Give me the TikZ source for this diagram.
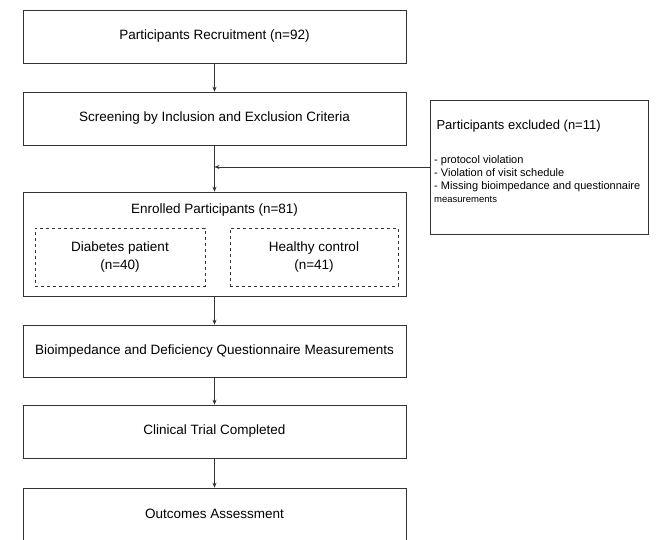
\documentclass[tikz,border=0pt]{standalone}
\usepackage{fontspec}
\setmainfont{Liberation Sans}
\usetikzlibrary{arrows.meta}
\begin{document}
\begin{tikzpicture}[x=1pt, y=-1pt,
    caja/.style={draw=black!80, line width=0.6pt, minimum width=383pt, minimum height=53pt, inner sep=0pt, font=\fontsize{13.5}{16}\selectfont},
    subcaja/.style={draw=black!80, dashed, line width=0.5pt, minimum height=58pt, inner sep=0pt, align=center, font=\fontsize{13.5}{18}\selectfont},
    flecha/.style={-{Stealth[length=5pt, width=4pt]}, line width=0.5pt, black!80}]
  \useasboundingbox (0,0) rectangle (656,540);

  % cajas principales
  \node[caja] (recruit) at (214.5,36.5) {Participants Recruitment (n=92)};
  \node[caja] (screen) at (214.5,118.5) {Screening by Inclusion and Exclusion Criteria};
  \node[caja, minimum height=104pt] (enrolled) at (214.5,244) {};
  \node[caja, minimum height=52pt] (bio) at (214.5,351) {Bioimpedance and Deficiency Questionnaire Measurements};
  \node[caja] (clinical) at (214.5,431.5) {Clinical Trial Completed};
  \node[caja, minimum height=52pt] (outcome) at (214.5,514) {Outcomes Assessment};

  % grupos
  \node[font=\fontsize{13.5}{16}\selectfont] (enrolledtxt) at (214.5,210) {Enrolled Participants (n=81)};
  \node[subcaja, minimum width=170pt] (diabetes) at (120,257) {Diabetes patient\\(n=40)};
  \node[subcaja, minimum width=168pt] (healthy) at (314,257) {Healthy control\\(n=41)};

  % excluidos
  \node[draw=black!80, line width=0.6pt, minimum width=218pt, minimum height=134pt] (excl) at (539,167) {};
  \node[anchor=west, font=\fontsize{13}{15}\selectfont] (excltitle) at (433,126) {Participants excluded (n=11)};
  \node[anchor=north west, align=left, inner sep=0pt, font=\fontsize{11}{13}\selectfont] (excllist) at (434,155)
    {- protocol violation\\- Violation of visit schedule\\- Missing bioimpedance and questionnaire\\{\fontsize{9.5}{13}\selectfont measurements}};
  \coordinate (junta) at (214.5,167);

  % flechas
  \draw[flecha] (recruit) -- (screen);
  \draw[flecha] (screen) -- (enrolled);
  \draw[flecha] (excl.west) -- (junta);
  \draw[flecha] (enrolled) -- (bio);
  \draw[flecha] (bio) -- (clinical);
  \draw[flecha] (clinical) -- (outcome);
\end{tikzpicture}
\end{document}
